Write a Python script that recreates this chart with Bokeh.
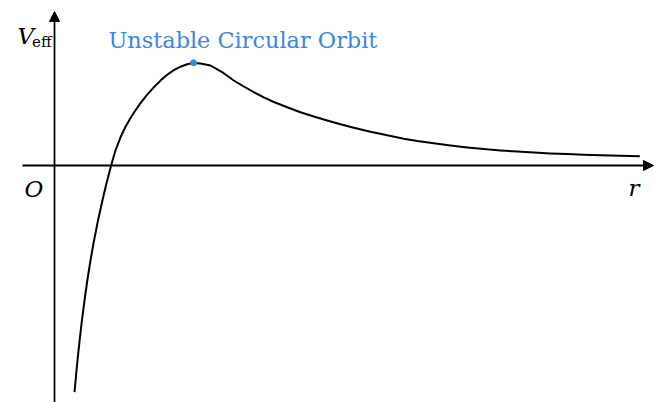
from bokeh.plotting import figure
from bokeh.models import Range1d, Arrow, NormalHead
from bokeh.core.properties import value
from bokeh.embed import file_html
from bokeh.resources import INLINE

# Effective potential curve (r, V_eff) in arbitrary units
r_vals = [0.200, 0.217, 0.233, 0.253, 0.274, 0.300, 0.328, 0.357, 0.389, 0.435,
          0.479, 0.519, 0.566, 0.610, 0.660, 0.710, 0.760, 0.810, 0.860, 0.927,
          0.993, 1.060, 1.127, 1.193, 1.260, 1.327, 1.390, 1.460, 1.560, 1.693,
          1.793, 1.893, 1.993, 2.093, 2.193, 2.327, 2.460, 2.593, 2.727, 2.860,
          2.993, 3.160, 3.327, 3.493, 3.627, 3.793, 3.960, 4.127, 4.293, 4.460,
          4.627, 4.793, 4.960, 5.127, 5.293, 5.460, 5.660, 5.853]
v_vals = [-2.267, -2.083, -1.917, -1.733, -1.550, -1.350, -1.150, -0.967, -0.783, -0.550,
          -0.350, -0.183, 0.000, 0.152, 0.282, 0.387, 0.475, 0.552, 0.623, 0.709,
          0.782, 0.849, 0.907, 0.954, 0.988, 1.012, 1.024, 1.021, 1.000, 0.923,
          0.850, 0.790, 0.733, 0.681, 0.635, 0.582, 0.533, 0.490, 0.450, 0.413,
          0.377, 0.337, 0.302, 0.268, 0.245, 0.222, 0.200, 0.181, 0.165, 0.151,
          0.139, 0.129, 0.121, 0.114, 0.108, 0.103, 0.098, 0.093]

peak_r = [1.39]
peak_v = [1.027]
peak_label = ["Unstable Circular Orbit"]

BLUE = "#3a86e4"

p = figure(width=654, height=402, output_backend="svg", toolbar_location=None,
           x_range=Range1d(-0.54, 6.00), y_range=Range1d(-2.37, 1.65),
           min_border=0, min_border_left=0, min_border_right=0,
           min_border_top=0, min_border_bottom=0)
p.axis.visible = False
p.grid.visible = False
p.outline_line_color = None
p.background_fill_color = "white"
p.border_fill_color = "white"

# axes with arrows
p.add_layout(Arrow(x_start=-0.32, y_start=0, x_end=5.99, y_end=0,
                   line_color="black", line_width=1.8,
                   end=NormalHead(size=10, fill_color="black", line_color="black", line_width=1)))
p.add_layout(Arrow(x_start=0, y_start=-2.45, x_end=0, y_end=1.54,
                   line_color="black", line_width=1.8,
                   end=NormalHead(size=10, fill_color="black", line_color="black", line_width=1)))

p.line(r_vals, v_vals, line_color="black", line_width=2, line_join="round")
p.scatter(peak_r, peak_v, size=6, fill_color=BLUE, line_color=BLUE)

p.text(x=[0.54], y=[1.26], text=peak_label, text_color=BLUE,
       text_font=value("DejaVu Serif"), text_font_size="22.4px",
       text_align="left", text_baseline="alphabetic")

p.text(x=[-0.37], y=[1.30], text=["V"], text_color="black",
       text_font=value("DejaVu Serif"), text_font_style="italic", text_font_size="23px",
       text_align="left", text_baseline="alphabetic")
p.text(x=[-0.225], y=[1.24], text=["eff"], text_color="black",
       text_font=value("DejaVu Serif"), text_font_size="15px",
       text_align="left", text_baseline="alphabetic")
p.text(x=[-0.30], y=[-0.23], text=["O"], text_color="black",
       text_font=value("DejaVu Serif"), text_font_style="italic", text_font_size="23px",
       text_align="left", text_baseline="alphabetic")
p.text(x=[5.74], y=[-0.22], text=["r"], text_color="black",
       text_font=value("DejaVu Serif"), text_font_style="italic", text_font_size="23px",
       text_align="left", text_baseline="alphabetic")

open("out.html", "w").write(file_html(p, INLINE))
